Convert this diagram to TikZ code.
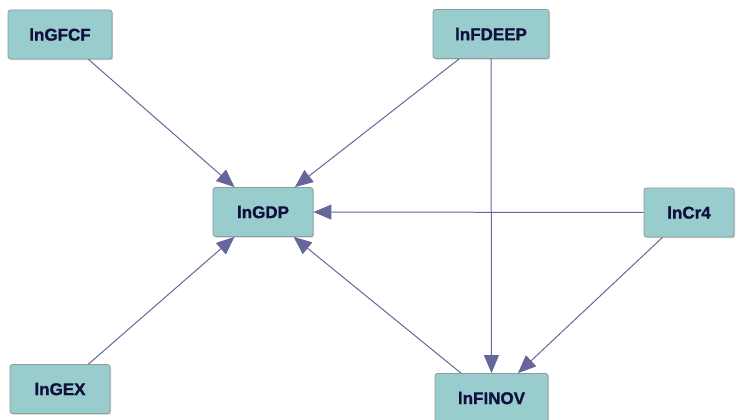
\documentclass[tikz,border=0pt]{standalone}
\usepackage{fontspec}
\setmainfont{Liberation Sans}
\newfontfamily\lblfont[FakeBold=1.2]{Liberation Sans Bold}
\usetikzlibrary{arrows.meta,shadows}
\definecolor{boxfill}{HTML}{99CCCC}
\definecolor{boxline}{HTML}{8C9C9C}
\definecolor{txt}{HTML}{10103F}
\definecolor{edge}{HTML}{66669C}
\tikzset{
  var/.style={draw=boxline, line width=0.8pt, fill=boxfill, rounded corners=2.5pt,
    minimum height=49pt, inner sep=0pt, text=txt,
    font=\lblfont\fontsize{17}{17}\selectfont,
    drop shadow={shadow xshift=1.2pt, shadow yshift=-1.2pt, fill=black!30, opacity=0.6}},
  link/.style={draw=edge, line width=1pt, -{Triangle[length=18pt,width=15pt]}}
}
\begin{document}
\begin{tikzpicture}[x=1pt,y=-1pt]
\useasboundingbox (0,0) rectangle (736,420);
\clip (0,0) rectangle (736,420);
\node[var, minimum width=104pt] (gfcf) at (60,34.5) {lnGFCF};
\node[var, minimum width=116pt] (fdeep) at (491,34) {lnFDEEP};
\node[var, minimum width=100pt] (gdp) at (263,212) {lnGDP};
\node[var, minimum width=90pt] (cr4) at (689,212.5) {lnCr4};
\node[var, minimum width=100pt] (gex) at (60,389) {lnGEX};
\node[var, minimum width=113pt] (finov) at (491.5,398) {lnFINOV};
\draw[link] (gfcf) -- (gdp);
\draw[link] (fdeep) -- (gdp);
\draw[link] (fdeep) -- (finov);
\draw[link] (cr4) -- (gdp);
\draw[link] (cr4) -- (finov);
\draw[link] (finov) -- (gdp);
\draw[link] (gex) -- (gdp);
\end{tikzpicture}
\end{document}
